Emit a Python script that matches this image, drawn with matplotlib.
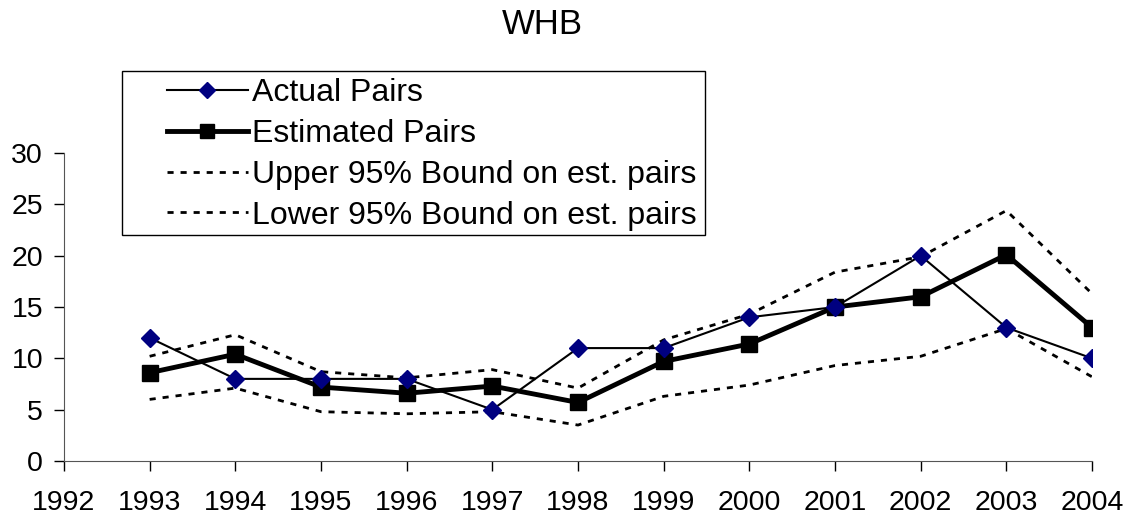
import matplotlib.pyplot as plt
from matplotlib.patches import Rectangle

plt.rcParams['font.family'] = ['Liberation Sans', 'DejaVu Sans']

years = [1993, 1994, 1995, 1996, 1997, 1998, 1999, 2000, 2001, 2002, 2003, 2004]
actual = [12, 8, 8, 8, 5, 11, 11, 14, 15, 20, 13, 10]
estimated = [8.6, 10.4, 7.2, 6.6, 7.3, 5.7, 9.7, 11.4, 15.0, 16.0, 20.1, 13.0]
upper = [10.2, 12.3, 8.7, 8.1, 8.9, 7.1, 11.8, 14.3, 18.4, 19.9, 24.4, 16.3]
lower = [6.0, 7.1, 4.8, 4.6, 4.8, 3.5, 6.3, 7.4, 9.3, 10.2, 12.9, 8.2]
xticks = list(range(1992, 2005))

fig = plt.figure(figsize=(11.34, 5.19), dpi=100)
ax = fig.add_axes([0.0564, 0.1118, 0.9066, 0.5932])

dots = (0, (2.2, 2.5))
ax.plot(years, actual, color='black', lw=1.5, marker='D', markersize=9,
        markerfacecolor='#000080', markeredgecolor='#000080', label='Actual Pairs', zorder=4)
ax.plot(years, estimated, color='black', lw=3.5, marker='s', markersize=11,
        label='Estimated Pairs', zorder=3)
ax.plot(years, upper, color='black', lw=2, ls=dots,
        label='Upper 95% Bound on est. pairs', zorder=2)
ax.plot(years, lower, color='black', lw=2, ls=dots,
        label='Lower 95% Bound on est. pairs', zorder=2)

ax.set_xlim(1992, 2004)
ax.set_ylim(0, 30)
ax.set_xticks(xticks)
ax.set_yticks(range(0, 31, 5))
ax.tick_params(labelsize=20.5, direction='out', length=7, width=1, colors='black')
ax.tick_params(axis='x', pad=14)
ax.tick_params(axis='y', pad=8)
for s in ['top', 'right']:
    ax.spines[s].set_visible(False)
for s in ['left', 'bottom']:
    ax.spines[s].set_color('#555555')

fig.text(0.478, 0.952, 'WHB', ha='center', va='center', fontsize=25)

# legend without its own frame; the box is drawn separately
leg = fig.legend(loc='upper left', bbox_to_anchor=(0.1473, 0.8497), fontsize=23,
                 handlelength=2.53, handletextpad=0.12, labelspacing=0.34,
                 borderpad=0, borderaxespad=0, frameon=False)
leg.legend_handles[0].set_markersize(8)
leg.legend_handles[1].set_markersize(10)
fig.patches.append(Rectangle((0.1076, 0.5472), 0.5141, 0.3160, transform=fig.transFigure,
                             fill=False, edgecolor='black', linewidth=1))

fig.savefig('out.png', dpi=100)
